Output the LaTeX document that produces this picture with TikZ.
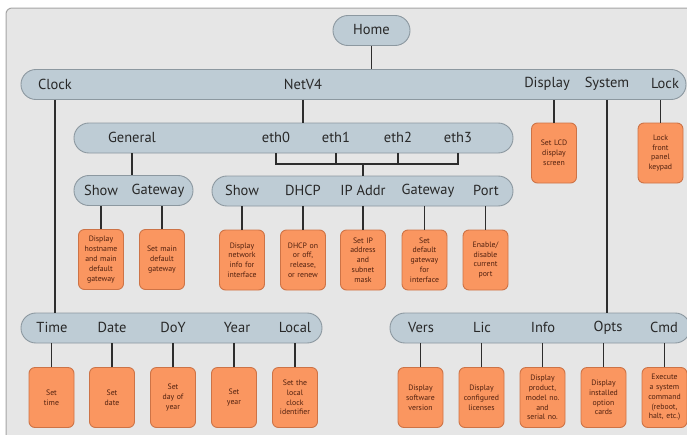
\documentclass[tikz,border=0pt]{standalone}
\usepackage{fontspec}
\setmainfont{PT Sans}
\definecolor{bgc}{RGB}{230,230,230}
\definecolor{framec}{RGB}{165,165,165}
\definecolor{barfill}{RGB}{190,204,213}
\definecolor{barline}{RGB}{140,152,160}
\definecolor{orfill}{RGB}{250,150,96}
\definecolor{orline}{RGB}{205,115,70}
\definecolor{ortext}{RGB}{80,32,14}
\definecolor{labc}{RGB}{40,40,40}
\definecolor{conn}{RGB}{45,45,45}
\tikzset{
  bar/.style={draw=barline, fill=barfill, line width=0.9pt, rounded corners=14.9pt, minimum height=30pt, inner sep=0pt},
  lab/.style={text=labc, font=\fontsize{14.5}{16}\selectfont, inner sep=0pt},
  leaf/.style={draw=orline, fill=orfill, line width=0.9pt, rounded corners=6pt, minimum width=45pt, minimum height=60pt, text width=44pt, inner sep=0pt, align=center, text=ortext, font=\fontsize{7.8}{9.8}\selectfont},
  cn/.style={draw=conn, line width=1.1pt}
}
\begin{document}
\begin{tikzpicture}[x=1pt,y=-1pt]
\useasboundingbox (0,0) rectangle (687,434);
\clip (0,0) rectangle (687,434);
\fill[white] (0,0) rectangle (687,434);
\draw[framec, fill=bgc, line width=1pt, rounded corners=6pt] (6,8) rectangle (700,450);

% bars
\node[bar, minimum width=77pt] (home) at (371.5,30.5) {};
\node[lab] (homel) at (371.5,30) {Home};
\node[bar, minimum width=665pt] (top) at (353.5,84.5) {};
\node[bar, minimum width=439pt] (gen) at (293.5,138) {};
\node[bar, minimum width=119pt] (sg) at (133.5,190.5) {};
\node[bar, minimum width=301pt] (net) at (362.5,191) {};
\node[bar, minimum width=301pt] (clk) at (171.5,328) {};
\node[bar, minimum width=300pt] (sys) at (540,328) {};

% top labels
\node[lab] (clock) at (55,84) {Clock};
\node[lab] (netv4) at (303,84) {NetV4};
\node[lab] (display) at (547,84) {Display};
\node[lab] (system) at (607,84) {System};
\node[lab] (lock) at (665,84) {Lock};

% general labels
\node[lab] (general) at (132,137.5) {General};
\node[lab] (eth0) at (276,137.5) {eth0};
\node[lab] (eth1) at (336,137.5) {eth1};
\node[lab] (eth2) at (398,137.5) {eth2};
\node[lab] (eth3) at (458,137.5) {eth3};

% show/gateway labels
\node[lab] (gshow) at (101,190.5) {Show};
\node[lab] (ggw) at (158,190.5) {Gateway};
\node[lab] (nshow) at (242,190.5) {Show};
\node[lab] (ndhcp) at (303,190.5) {DHCP};
\node[lab] (nip) at (363,190.5) {IP Addr};
\node[lab] (ngw) at (428,190.5) {Gateway};
\node[lab] (nport) at (486,190.5) {Port};

% bottom labels
\node[lab] (time) at (52,327.5) {Time};
\node[lab] (date) at (112,327.5) {Date};
\node[lab] (doy) at (173,327.5) {DoY};
\node[lab] (year) at (237,327.5) {Year};
\node[lab] (local) at (295,327.5) {Local};
\node[lab] (vers) at (421,327.5) {Vers};
\node[lab] (lic) at (482,327.5) {Lic};
\node[lab] (info) at (543,327.5) {Info};
\node[lab] (opts) at (608,327.5) {Opts};
\node[lab] (cmd) at (664,327.5) {Cmd};

% leaves
\node[leaf] (lcd) at (554,153) {Set LCD\\display\\screen};
\node[leaf] (lockb) at (660.5,153) {Lock\\front\\panel\\keypad};
\node[leaf] (g1) at (101,259.5) {Display\\hostname\\and main\\default\\gateway};
\node[leaf] (g2) at (162,259.5) {Set main\\default\\gateway};
\node[leaf] (n1) at (242,260) {Display\\network\\info for\\interface};
\node[leaf] (n2) at (303,260) {DHCP on\\or off,\\release,\\or renew};
\node[leaf] (n3) at (363,260) {Set IP\\address\\and\\subnet\\mask};
\node[leaf] (n4) at (424.5,260) {Set\\default\\gateway\\for\\interface};
\node[leaf] (n5) at (485.5,260) {Enable/\\disable\\current\\port};
\node[leaf] (c1) at (51.5,397.5) {Set\\time};
\node[leaf] (c2) at (112,397.5) {Set\\date};
\node[leaf] (c3) at (173,397.5) {Set\\day of\\year};
\node[leaf] (c4) at (234,397.5) {Set\\year};
\node[leaf] (c5) at (295,397.5) {Set the\\local\\clock\\identifier};
\node[leaf] (s1) at (420.5,397.5) {Display\\software\\version};
\node[leaf] (s2) at (481.5,397.5) {Display\\configured\\licenses};
\node[leaf] (s3) at (542.5,397.5) {Display\\product,\\model no.\\and\\serial no.};
\node[leaf] (s4) at (603.5,397.5) {Display\\installed\\option\\cards};
\node[leaf] (s5) at (664.5,397.5) {Execute\\a system\\command\\(reboot,\\halt, etc.)};

% connectors
\draw[cn] (home.south) -- (home.south |- top.north);
\draw[cn] (clock |- top.south) -- (clock |- clk.north);
\draw[cn] (netv4 |- top.south) -- (netv4 |- gen.north);
\draw[cn] (lcd.north) -- (lcd.north |- top.south);
\draw[cn] (lockb.north) -- (lockb.north |- top.south);
\draw[cn] (system |- top.south) -- (system |- sys.north);

\draw[cn] (general |- gen.south) -- (general |- sg.north);
\coordinate (j) at (363,164);
\draw[cn] (eth0 |- gen.south) |- (j) -| (eth3 |- gen.south);
\draw[cn] (eth1 |- gen.south) -- (eth1 |- j);
\draw[cn] (eth2 |- gen.south) -- (eth2 |- j);
\draw[cn] (j) -- (j |- net.north);

\foreach \b/\p in {g1/sg,g2/sg,n1/net,n2/net,n3/net,n4/net,n5/net,c1/clk,c2/clk,c3/clk,c4/clk,c5/clk,s1/sys,s2/sys,s3/sys,s4/sys,s5/sys}
  \draw[cn] (\b.north) -- (\b.north |- \p.south);
\end{tikzpicture}
\end{document}
